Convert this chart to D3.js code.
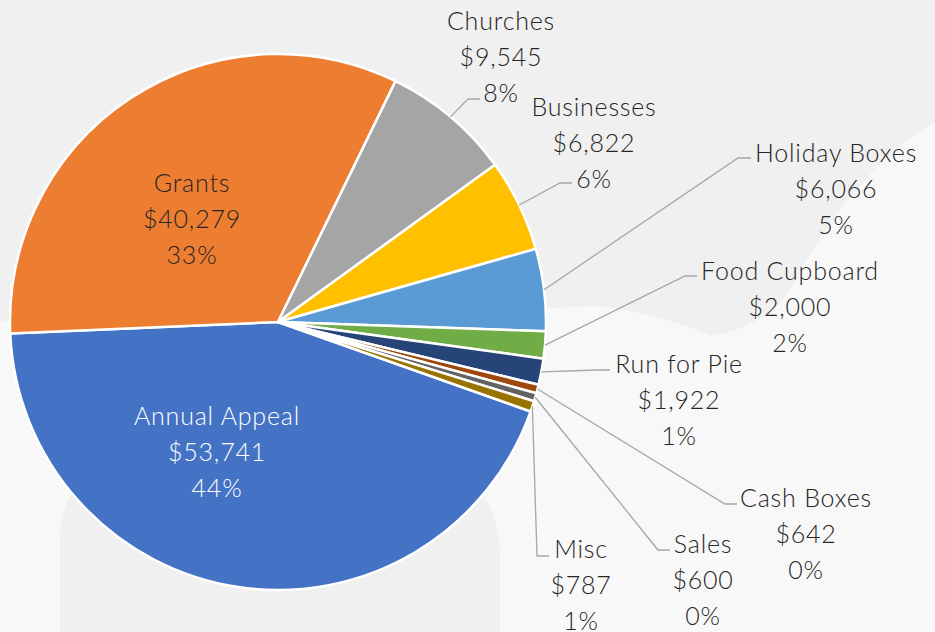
<!DOCTYPE html>
<html>
<head>
<meta charset="utf-8">
<script src="https://cdn.jsdelivr.net/npm/d3@7"></script>
<style>
  html, body { margin: 0; padding: 0; background: #f8f8f8; }
  svg { display: block; }
  .lbl { font-family: Lato, "Open Sans", sans-serif; font-weight: 300; font-size: 25px; letter-spacing: 0.8px; }
</style>
</head>
<body>
<div id="chart"></div>
<script>
// Data, in series order (Excel draws them clockwise)
const categories = ['Annual Appeal', 'Grants', 'Churches', 'Businesses', 'Holiday Boxes',
                    'Food Cupboard', 'Run for Pie', 'Cash Boxes', 'Sales', 'Misc'];
const amounts    = [53741, 40279, 9545, 6822, 6066, 2000, 1922, 642, 600, 787];
const pctLabels  = ['44%', '33%', '8%', '6%', '5%', '2%', '1%', '0%', '0%', '1%'];
const colors     = ['#4472C4', '#ED7D31', '#A5A5A5', '#FFC000', '#5B9BD5',
                    '#70AD47', '#264478', '#9E480E', '#636363', '#997300'];

// Label placement (first line centre + leader elbow / end), kept apart from the data
const labelPos = {
  'Annual Appeal': {x: 217, y: 415, fill: '#fff'},
  'Grants':        {x: 192, y: 182},
  'Churches':      {x: 501, y: 20,  elbow: [468, 99],  end: [480, 99]},
  'Businesses':    {x: 594, y: 106, elbow: [560, 183], end: [572, 183]},
  'Holiday Boxes': {x: 836, y: 152, elbow: [738, 158], end: [751, 158]},
  'Food Cupboard': {x: 790, y: 270, elbow: [685, 276], end: [697, 276]},
  'Run for Pie':   {x: 679, y: 363, elbow: [598, 370], end: [610, 370]},
  'Cash Boxes':    {x: 806, y: 497, elbow: [725, 504], end: [737, 504]},
  'Sales':         {x: 703, y: 543, elbow: [658, 550], end: [670, 550]},
  'Misc':          {x: 581, y: 548, elbow: [537, 556], end: [549, 556]}
};

const width = 935, height = 632;
const cx = 278, cy = 322, radius = 268;
const startDeg = 109.5;
const lineGap = 36;

const svg = d3.select('#chart').append('svg')
    .attr('width', width)
    .attr('height', height);

// Faint background shapes behind the chart
const bg = svg.append('g');
bg.append('rect').attr('width', width).attr('height', height).attr('fill', '#f8f8f8');
bg.append('path')
    .attr('d', 'M0,0 H935 V122 C880,150 820,230 790,290 C770,320 740,330 712,336 ' +
               'C680,322 640,312 600,306 L300,318 L0,322 Z')
    .attr('fill', '#f0f0f0');
bg.append('path')
    .attr('d', 'M60,632 V540 C60,490 90,462 150,462 H420 C470,462 500,500 500,560 V632 Z')
    .attr('fill', '#f0f0f0');

const g = svg.append('g')
    .attr('transform', 'translate(' + cx + ',' + cy + ')');

const rows = categories.map((c, i) => ({name: c, value: amounts[i], pct: pctLabels[i], color: colors[i]}));

const start = startDeg * Math.PI / 180;
const pie = d3.pie()
    .sort(null)
    .value(d => d.value)
    .startAngle(start)
    .endAngle(start + 2 * Math.PI);

const arc = d3.arc().innerRadius(0).outerRadius(radius);
const edgeArc = d3.arc().innerRadius(radius).outerRadius(radius);

const arcs = pie(rows);

// Slices
g.selectAll('path.slice')
    .data(arcs)
    .enter().append('path')
    .attr('class', 'slice')
    .attr('d', arc)
    .attr('fill', d => d.data.color)
    .attr('stroke', '#fff')
    .attr('stroke-width', 2.5)
    .attr('stroke-linejoin', 'round');

// Leader lines
arcs.forEach(function(d) {
    let p = labelPos[d.data.name];
    if (!p.elbow) return;
    let s = edgeArc.centroid(d);
    let pts = [[s[0] + cx, s[1] + cy], p.elbow, p.end];
    svg.append('path')
        .attr('d', d3.line()(pts))
        .attr('fill', 'none')
        .attr('stroke', '#a6a6a6')
        .attr('stroke-width', 1.3);
});

// Labels
arcs.forEach(function(d) {
    let p = labelPos[d.data.name];
    let txt = svg.append('text')
        .attr('class', 'lbl')
        .attr('text-anchor', 'middle')
        .attr('fill', p.fill || '#262626');
    [d.data.name, '$' + d3.format(',')(d.data.value), d.data.pct].forEach(function(line, k) {
        txt.append('tspan')
            .attr('x', p.x)
            .attr('y', p.y + k * lineGap)
            .attr('dominant-baseline', 'central')
            .text(line);
    });
});
</script>
</body>
</html>
